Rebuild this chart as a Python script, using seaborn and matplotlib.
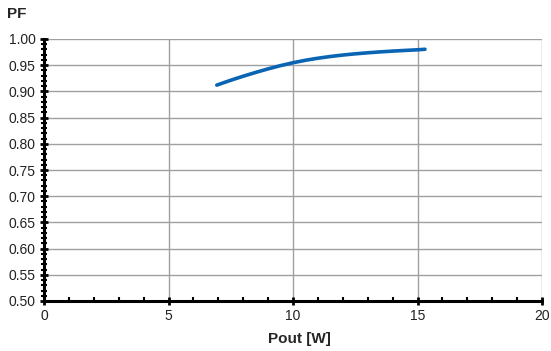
import matplotlib
matplotlib.use("Agg")
import matplotlib.pyplot as plt
import seaborn as sns
import pandas as pd
from matplotlib.ticker import MultipleLocator, FormatStrFormatter

pout = [6.94, 7.5, 8.0, 8.5, 9.0, 9.5, 10.0, 10.5, 11.0, 11.5, 12.0, 12.5,
        13.0, 13.5, 14.0, 14.5, 15.0, 15.3]
pf = [0.912, 0.9213, 0.9290, 0.9362, 0.9430, 0.9492, 0.9547, 0.9594, 0.9633,
      0.9666, 0.9694, 0.9717, 0.9737, 0.9754, 0.9769, 0.9782, 0.9794, 0.9804]

df = pd.DataFrame({"Pout": pout, "PF": pf})

sns.set_theme(style="white")
plt.rcParams['font.family'] = ['Liberation Sans', 'DejaVu Sans']

fig = plt.figure(figsize=(5.51, 3.51), dpi=100)
ax = fig.add_axes([44/551, 1-301/351, (542-44)/551, (301-39)/351])

sns.lineplot(data=df, x="Pout", y="PF", ax=ax, color="#0a64b4", linewidth=2.6)

ax.set_xlim(0, 20)
ax.set_ylim(0.5, 1.0)
ax.xaxis.set_major_locator(MultipleLocator(5))
ax.xaxis.set_minor_locator(MultipleLocator(1))
ax.yaxis.set_major_locator(MultipleLocator(0.05))
ax.yaxis.set_minor_locator(MultipleLocator(0.01))
ax.yaxis.set_major_formatter(FormatStrFormatter("%.2f"))
ax.grid(True, which="major", color="#a0a0a0", linewidth=1)
ax.set_axisbelow(True)

for s in ["top", "right"]:
    ax.spines[s].set_visible(False)
for s in ["left", "bottom"]:
    ax.spines[s].set_color("black")
    ax.spines[s].set_linewidth(2.2)

ax.tick_params(axis="both", which="major", direction="inout", length=6, width=2, color="black",
               labelsize=10, labelcolor="#222222", pad=3)
ax.tick_params(axis="y", which="minor", direction="inout", length=4, width=1.5, color="black")
ax.tick_params(axis="x", which="minor", direction="in", length=3, width=1.5, color="black")
ax.tick_params(bottom=True, left=True, which="both")

ax.set_xlabel("Pout [W]", fontsize=11, fontweight="bold", labelpad=8)
ax.xaxis.set_label_coords((299-44)/(542-44), -0.12)
ax.set_ylabel("")
fig.text(7/551, 1-14/351, "PF", fontsize=11, fontweight="bold", va="center", ha="left")

fig.savefig("out.png", dpi=100, facecolor="white")
